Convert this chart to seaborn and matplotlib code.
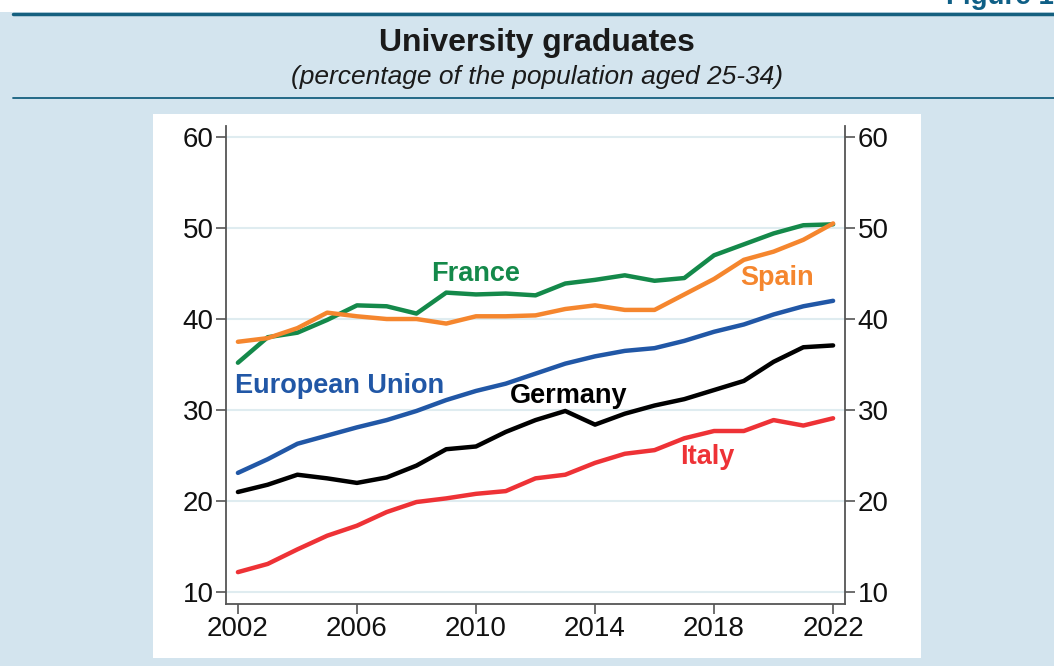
import matplotlib
matplotlib.use("Agg")
import matplotlib.pyplot as plt
import seaborn as sns
import pandas as pd
from matplotlib.patches import Rectangle
from matplotlib.lines import Line2D

years = list(range(2002, 2023))
france = [35.2, 38.0, 38.5, 39.9, 41.5, 41.4, 40.6, 42.9, 42.7, 42.8, 42.6,
          43.9, 44.3, 44.8, 44.2, 44.5, 47.0, 48.2, 49.4, 50.3, 50.4]
spain = [37.5, 37.9, 39.0, 40.7, 40.3, 40.0, 40.0, 39.5, 40.3, 40.3, 40.4,
         41.1, 41.5, 41.0, 41.0, 42.7, 44.4, 46.5, 47.4, 48.7, 50.5]
eu = [23.1, 24.6, 26.3, 27.2, 28.1, 28.9, 29.9, 31.1, 32.1, 32.9, 34.0,
      35.1, 35.9, 36.5, 36.8, 37.6, 38.6, 39.4, 40.5, 41.4, 42.0]
germany = [21.0, 21.8, 22.9, 22.5, 22.0, 22.6, 23.9, 25.7, 26.0, 27.6, 28.9,
           29.9, 28.4, 29.6, 30.5, 31.2, 32.2, 33.2, 35.3, 36.9, 37.1]
italy = [12.2, 13.1, 14.7, 16.2, 17.3, 18.8, 19.9, 20.3, 20.8, 21.1, 22.5,
         22.9, 24.2, 25.2, 25.6, 26.9, 27.7, 27.7, 28.9, 28.3, 29.1]

series = {"France": france, "Spain": spain, "European Union": eu,
          "Germany": germany, "Italy": italy}
colors = {"France": "#14894a", "Spain": "#f5862e", "European Union": "#2157a6",
          "Germany": "#000000", "Italy": "#ee3236"}

xticks = [2002, 2006, 2010, 2014, 2018, 2022]
yticks = [10, 20, 30, 40, 50, 60]

df = pd.DataFrame([(y, name, v) for name, vals in series.items()
                   for y, v in zip(years, vals)],
                  columns=["year", "series", "value"])

sns.set_theme(style="white")
plt.rcParams["font.family"] = ["Liberation Sans", "DejaVu Sans"]

BG = "#d3e4ee"
W, H = 1054, 666
fig = plt.figure(figsize=(W / 100, H / 100), dpi=100, facecolor=BG)

# top white band and rules
fig.add_artist(Rectangle((0, 1 - 12 / H), 1, 12 / H, transform=fig.transFigure,
                         facecolor="white", edgecolor="none", zorder=0))
fig.add_artist(Line2D([0.012, 1], [1 - 13.5 / H, 1 - 13.5 / H], transform=fig.transFigure,
                      color="#15607f", linewidth=2.5))
fig.add_artist(Line2D([0.012, 1], [1 - 98 / H, 1 - 98 / H], transform=fig.transFigure,
                      color="#15607f", linewidth=1.3))
# white chart panel
fig.add_artist(Rectangle((153 / W, 1 - 658 / H), (921 - 153) / W, (658 - 114) / H,
                         transform=fig.transFigure, facecolor="white",
                         edgecolor="none", zorder=0))

fig.text(1.0, 1 - 4 / H, "Figure 1", ha="right", va="baseline", fontsize=20,
         fontweight="bold", color="#0f5f86")
fig.text(537 / W, 1 - 43 / H, "University graduates", ha="center", va="center",
         fontsize=23, fontweight="bold", color="#1a1a1a")
fig.text(537 / W, 1 - 77 / H, "(percentage of the population aged 25-34)",
         ha="center", va="center", fontsize=19, style="italic", color="#1a1a1a")

ax = fig.add_axes([226 / W, 1 - 604 / H, (845 - 226) / W, (604 - 126) / H])
ax.set_facecolor("none")
sns.lineplot(data=df, x="year", y="value", hue="series", palette=colors,
             linewidth=3.2, legend=False, ax=ax)

ax.set_xlim(2001.6, 2022.4)
ax.set_ylim(8.7, 61.2)
ax.set_xticks(xticks)
ax.set_yticks(yticks)
ax.set_xticklabels([str(t) for t in xticks])
ax.set_yticklabels([str(t) for t in yticks])
ax.set_xlabel("")
ax.set_ylabel("")
for t in yticks:
    ax.axhline(t, color="#dfecf0", linewidth=1.5, zorder=0)

for s in ["left", "right", "bottom"]:
    ax.spines[s].set_visible(True)
    ax.spines[s].set_color("#555555")
    ax.spines[s].set_linewidth(1.3)
ax.spines["top"].set_visible(False)
ax.tick_params(axis="y", left=True, right=True, labelleft=True, labelright=True,
               direction="out", length=7, width=1.2, color="#555555",
               labelsize=20, labelcolor="#111111", pad=2)
ax.tick_params(axis="x", bottom=True, direction="out", length=7, width=1.2,
               color="#555555", labelsize=20, labelcolor="#111111", pad=2)

labels = [("France", 2009.97, 44.9), ("Spain", 2020.12, 44.5),
          ("European Union", 2005.43, 32.6), ("Germany", 2013.1, 31.6),
          ("Italy", 2017.76, 24.8)]
for name, x, y in labels:
    ax.text(x, y, name, color=colors[name], fontsize=19.5, fontweight="bold",
            ha="center", va="center")

fig.savefig("out.png", dpi=100, facecolor=BG)
